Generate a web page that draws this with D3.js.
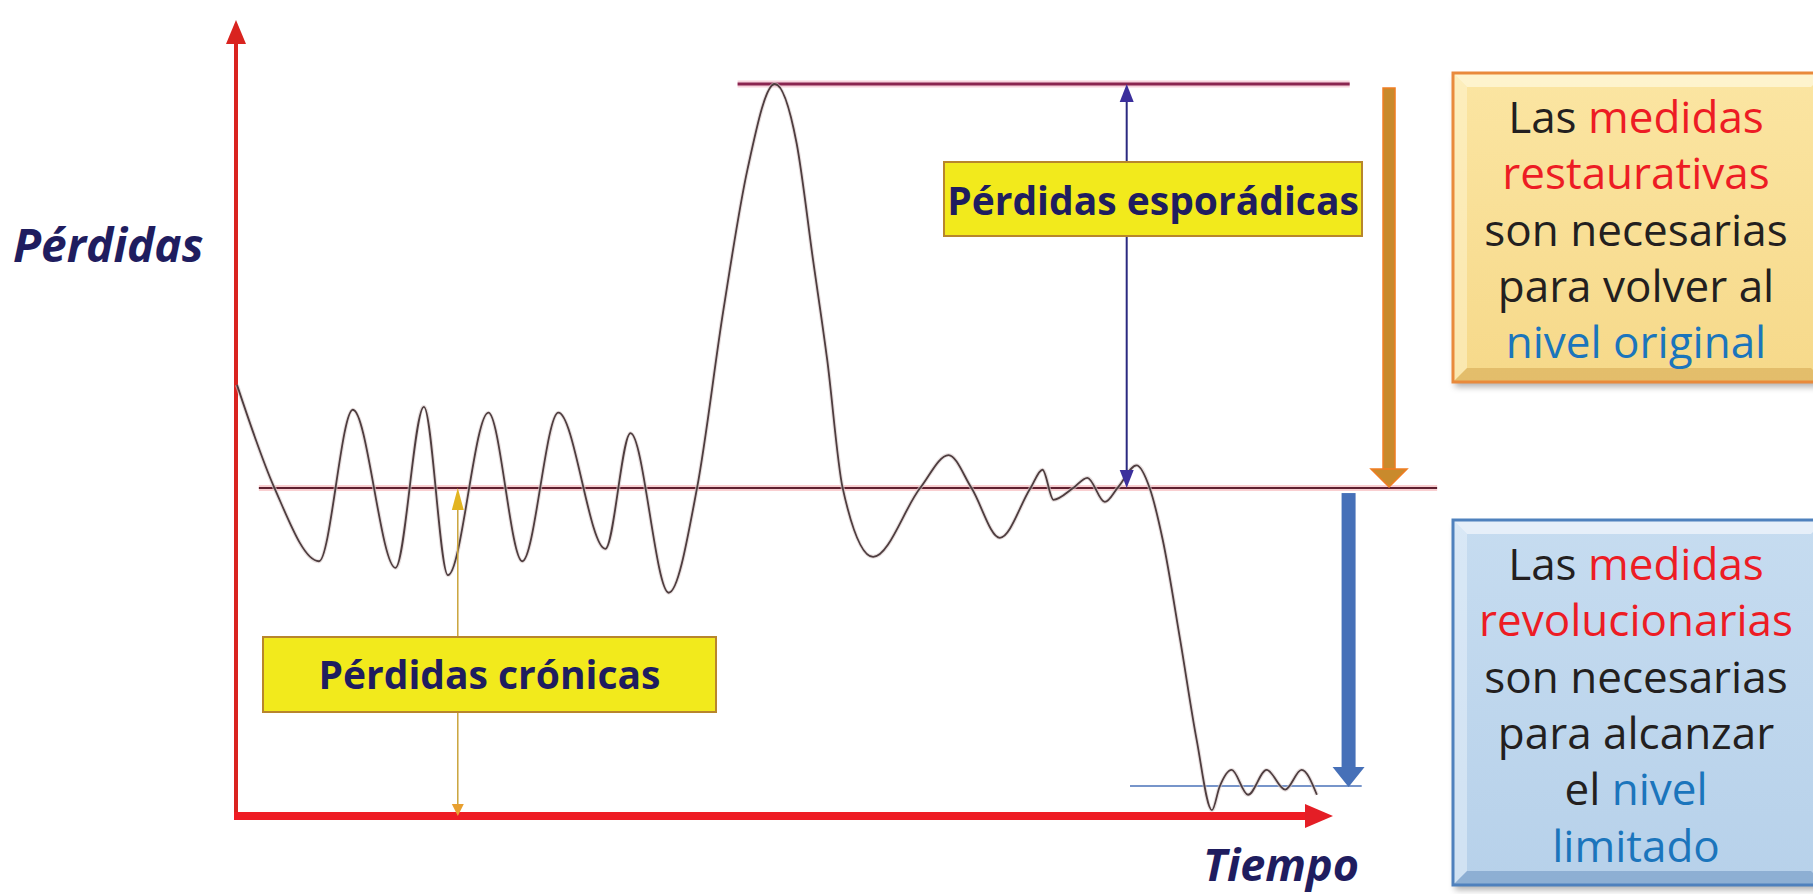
<!DOCTYPE html>
<html>
<head>
<meta charset="utf-8">
<script src="https://cdnjs.cloudflare.com/ajax/libs/d3/7.8.5/d3.min.js"></script>
<style>
  html, body { margin: 0; padding: 0; background: #ffffff; }
  svg { display: block; }
</style>
</head>
<body>
<div id="chart"></div>
<script>
// curve: time (0-100) vs losses (0 = floor, 100 = sporadic peak)
var time   = [0, 3.4, 7.5, 10.6, 14.5, 17.1, 19.3, 23.0, 26.1, 29.4, 33.7, 36.0, 39.5, 42.1, 44.5, 46.7, 49.2,
              51.2, 52.7, 54.0, 55.4, 58.2, 62.5, 65.1, 67.2, 69.8, 72.6, 73.7, 74.7, 76.5, 77.8, 79.4, 80.6,
              82.3, 83.5, 84.7, 86.3, 87.8, 89.2, 89.9, 91.0, 92.5, 94.2, 95.9, 97.4, 98.8];
var losses = [58.9, 44.9, 34.8, 55.5, 33.9, 55.9, 32.9, 55.1, 34.8, 55.1, 36.5, 52.3, 30.5, 44.9, 69.1, 88.3, 100,
              91.9, 76.0, 62.3, 44.9, 35.4, 44.8, 49.3, 44.8, 38.0, 44.8, 47.3, 43.2, 44.8, 46.2, 42.9, 44.9,
              47.9, 44.8, 37.7, 24.0, 10.4, 0.8, 4.0, 6.3, 2.9, 6.3, 3.6, 6.3, 2.9];

var levelNames  = ["pico esporádico", "nivel crónico", "nivel limitado"];
var levelValues = [100, 44.8, 4.1];

var axisLabels = ["Tiempo", "Pérdidas"];
var sporadicLabel = "Pérdidas esporádicas";
var chronicLabel  = "Pérdidas crónicas";

// text boxes: [text, colour key]
var restorativeLines = [
  [["Las ", "k"], ["medidas", "r"]],
  [["restaurativas", "r"]],
  [["son necesarias", "k"]],
  [["para volver al", "k"]],
  [["nivel original", "b"]]
];
var revolutionaryLines = [
  [["Las ", "k"], ["medidas", "r"]],
  [["revolucionarias", "r"]],
  [["son necesarias", "k"]],
  [["para alcanzar", "k"]],
  [["el ", "k"], ["nivel", "b"]],
  [["limitado", "b"]]
];

var W = 1813, H = 894;
var textColor = { k: "#231f20", r: "#ed1c24", b: "#1b75bc" };
var navy = "#1f1d5f";

var x = d3.scaleLinear().domain([0, 100]).range([237, 1330]);
var y = d3.scaleLinear().domain([0, 100]).range([816, 84]);

var svg = d3.select("#chart").append("svg")
  .attr("width", W).attr("height", H);

var defs = svg.append("defs");
var sh = defs.append("filter").attr("id", "shadow")
  .attr("x", "-10%").attr("y", "-10%").attr("width", "130%").attr("height", "130%");
sh.append("feDropShadow").attr("dx", 2).attr("dy", 5).attr("stdDeviation", 3)
  .attr("flood-color", "#000").attr("flood-opacity", 0.3);

function gradient(id, c1, c2) {
  var g = defs.append("linearGradient").attr("id", id)
    .attr("x1", 0).attr("y1", 0).attr("x2", 0).attr("y2", 1);
  g.append("stop").attr("offset", "0%").attr("stop-color", c1);
  g.append("stop").attr("offset", "100%").attr("stop-color", c2);
}
gradient("gYellow", "#fbe5a2", "#f6d98a");
gradient("gBlue", "#c6dcf0", "#b7d1ea");

function head(g, px, py, w, h, dir, fill) {
  // dir: 1 = pointing down, -1 = pointing up, 2 = pointing right
  var pts;
  if (dir === 2) pts = [[px, py], [px - h, py - w / 2], [px - h, py + w / 2]];
  else pts = [[px, py], [px - w / 2, py - dir * h], [px + w / 2, py - dir * h]];
  g.append("polygon").attr("points", pts.map(function(p) { return p.join(","); }).join(" "))
    .attr("fill", fill);
}

// ---- level lines ----
var lv = svg.append("g").attr("class", "levels");
var levelExtents = [[45.8, 101.8], [2.0, 109.8], [81.7, 102.9]];
var levelStyles = [
  { halo: "#f3b6c6", stroke: "#8a2550", w: 3 },
  { halo: "#f6b0b4", stroke: "#5e2030", w: 2 },
  { halo: null, stroke: "#4a72b8", w: 1.5 }
];
levelValues.forEach(function(v, i) {
  var s = levelStyles[i];
  if (s.halo) {
    lv.append("line")
      .attr("x1", x(levelExtents[i][0])).attr("x2", x(levelExtents[i][1]))
      .attr("y1", y(v)).attr("y2", y(v))
      .attr("stroke", s.halo).attr("stroke-width", s.w + 4).attr("opacity", 0.6);
  }
  lv.append("line")
    .attr("x1", x(levelExtents[i][0])).attr("x2", x(levelExtents[i][1]))
    .attr("y1", y(v)).attr("y2", y(v))
    .attr("stroke", s.stroke).attr("stroke-width", s.w)
    .append("title").text(levelNames[i]);
});

// ---- axes ----
var ax = svg.append("g").attr("class", "axes");
ax.append("line")
  .attr("x1", x(0) - 1).attr("x2", x(0) - 1)
  .attr("y1", y(0) + 3).attr("y2", 40)
  .attr("stroke", "#d9231f").attr("stroke-width", 4);
head(ax, x(0) - 1, 20, 20, 24, -1, "#d9231f");

ax.append("line")
  .attr("x1", x(0) - 3).attr("x2", x(100) - 20)
  .attr("y1", y(0)).attr("y2", y(0))
  .attr("stroke", "#ee1c24").attr("stroke-width", 8);
head(ax, x(100) + 3, y(0), 24, 28, 2, "#e41e26");

// ---- curve ----
var line = d3.line()
  .x(function(d, i) { return x(time[i]); })
  .y(function(d, i) { return y(losses[i]); })
  .curve(d3.curveMonotoneX);

svg.append("path")
  .datum(losses)
  .attr("d", line)
  .attr("fill", "none")
  .attr("stroke", "#d8cccc").attr("stroke-width", 4).attr("opacity", 0.6);
svg.append("path")
  .datum(losses)
  .attr("d", line)
  .attr("fill", "none")
  .attr("stroke", "#4e3d3f").attr("stroke-width", 1.8);

// ---- measurement arrows ----
var ar = svg.append("g").attr("class", "arrows");

// chronic (gold, double headed)
var tc = 20.2;
ar.append("line")
  .attr("x1", x(tc)).attr("x2", x(tc))
  .attr("y1", y(levelValues[1]) + 10).attr("y2", y(0) - 8)
  .attr("stroke", "#caa43c").attr("stroke-width", 1.5);
head(ar, x(tc), y(levelValues[1]), 12, 22, -1, "#e2b422");
head(ar, x(tc), y(0), 12, 12, 1, "#e8a030");

// sporadic (navy, double headed)
var ts = 81.4;
ar.append("line")
  .attr("x1", x(ts)).attr("x2", x(ts))
  .attr("y1", y(levelValues[0]) + 6).attr("y2", y(levelValues[1]) - 6)
  .attr("stroke", "#2b2a80").attr("stroke-width", 2);
head(ar, x(ts), y(levelValues[0]), 14, 18, -1, "#3b2f9c");
head(ar, x(ts), y(levelValues[1]), 14, 18, 1, "#3b2f9c");

// orange: restorative (peak level -> chronic)
var to = 105.4, ox = x(to), oTip = y(levelValues[1]) - 1;
ar.append("rect")
  .attr("x", ox - 6).attr("y", y(levelValues[0]) + 4)
  .attr("width", 12).attr("height", oTip - 18 - y(levelValues[0]) - 4)
  .attr("fill", "#c98a2c").attr("stroke", "#f07d22").attr("stroke-width", 1.5);
ar.append("polygon")
  .attr("points", [[ox - 18, oTip - 18], [ox + 18, oTip - 18], [ox, oTip]].map(function(p) { return p.join(","); }).join(" "))
  .attr("fill", "#c98a2c").attr("stroke", "#f07d22").attr("stroke-width", 1.5);

// blue: revolutionary (chronic -> limited)
var tb = 101.7, bx = x(tb), bTip = y(levelValues[2]) + 1;
ar.append("rect")
  .attr("x", bx - 7).attr("y", y(levelValues[1]) + 5)
  .attr("width", 14).attr("height", bTip - 20 - y(levelValues[1]) - 5)
  .attr("fill", "#4670b8");
head(ar, bx, bTip, 32, 20, 1, "#4670b8");

// ---- label boxes ----
function labelBox(x0, y0, w, h, txt, baseline) {
  var g = svg.append("g");
  g.append("rect").attr("x", x0).attr("y", y0).attr("width", w).attr("height", h)
    .attr("fill", "#f2ea1c").attr("stroke", "#b8862c").attr("stroke-width", 2);
  g.append("text").attr("x", x0 + w / 2).attr("y", y0 + baseline)
    .attr("text-anchor", "middle")
    .attr("font-family", "'Open Sans', sans-serif").attr("font-weight", 700)
    .attr("font-size", 39).attr("fill", navy).text(txt);
}
labelBox(944, 162, 418, 74, sporadicLabel, 53);
labelBox(263, 637, 453, 75, chronicLabel, 52);

// ---- axis titles ----
svg.append("text").attr("x", 13).attr("y", 262)
  .attr("font-family", "'Open Sans', sans-serif").attr("font-weight", 700)
  .attr("font-style", "italic").attr("font-size", 46).attr("fill", navy)
  .text(axisLabels[1]);
svg.append("text").attr("x", 1203).attr("y", 881)
  .attr("font-family", "'Open Sans', sans-serif").attr("font-weight", 700)
  .attr("font-style", "italic").attr("font-size", 45).attr("fill", navy)
  .text(axisLabels[0]);

// ---- bevelled note boxes ----
function noteBox(y0, h, grad, border, light, dark, lines, firstBase) {
  var x0 = 1453, w = 372, b = 14;
  var g = svg.append("g");
  g.append("rect").attr("x", x0).attr("y", y0).attr("width", w).attr("height", h)
    .attr("fill", "url(#" + grad + ")").attr("filter", "url(#shadow)");
  // bevel bands
  var x1 = x0 + w, y1 = y0 + h;
  function band(pts, fill, op) {
    g.append("polygon").attr("points", pts.map(function(p) { return p.join(","); }).join(" "))
      .attr("fill", fill).attr("opacity", op);
  }
  band([[x0, y0], [x1, y0], [x1 - b, y0 + b], [x0 + b, y0 + b]], light, 0.75);
  band([[x0, y0], [x0 + b, y0 + b], [x0 + b, y1 - b], [x0, y1]], light, 0.45);
  band([[x0, y1], [x0 + b, y1 - b], [x1 - b, y1 - b], [x1, y1]], dark, 0.35);
  g.append("rect").attr("x", x0).attr("y", y0).attr("width", w).attr("height", h)
    .attr("fill", "none").attr("stroke", border).attr("stroke-width", 3);

  var t = g.append("g").attr("font-family", "'Open Sans', sans-serif")
    .attr("font-size", 44).attr("text-anchor", "middle");
  lines.forEach(function(segs, i) {
    var tx = t.append("text").attr("x", 1636).attr("y", firstBase + i * 56.3);
    segs.forEach(function(s) {
      tx.append("tspan").attr("fill", textColor[s[1]]).text(s[0]);
    });
  });
}
noteBox(73, 309, "gYellow", "#e98a3c", "#fff8dc", "#c08a30", restorativeLines, 133);
noteBox(520, 365, "gBlue", "#4f81bd", "#f0f6fc", "#3f6fa8", revolutionaryLines, 580);
</script>
</body>
</html>
